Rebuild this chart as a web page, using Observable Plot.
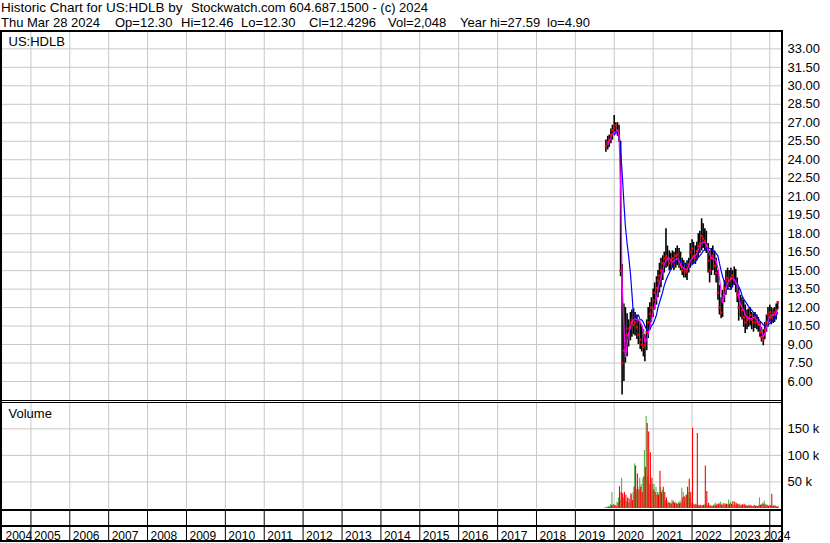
<!DOCTYPE html>
<html><head><meta charset="utf-8">
<script src="https://cdn.jsdelivr.net/npm/d3@7"></script>
<script src="https://cdn.jsdelivr.net/npm/@observablehq/plot@0.6"></script>
<style>
body{margin:0;background:#fff;width:830px;height:543px;overflow:hidden;position:relative;font-family:"Liberation Sans",Arial,sans-serif;}
.t{position:absolute;font-size:13px;line-height:13px;white-space:pre;color:#000}
.l1{top:1px}.l2{top:16px}
.bl{position:absolute;background:#000}
.pane{position:absolute;left:0}
.pane svg{overflow:visible}
</style></head><body>
<div class="t l1" style="left:1px;font-size:13.5px">Historic Chart for US:HDLB by</div>
<div class="t l1" style="left:191px">Stockwatch.com 604.687.1500 - (c) 2024</div>
<div class="t l2" style="left:1px">Thu Mar 28 2024</div>
<div class="t l2" style="left:115px">Op=12.30</div>
<div class="t l2" style="left:181px">Hi=12.46</div>
<div class="t l2" style="left:241px">Lo=12.30</div>
<div class="t l2" style="left:309px">Cl=12.4296</div>
<div class="t l2" style="left:388px">Vol=2,048</div>
<div class="t l2" style="left:460px">Year hi=27.59</div>
<div class="t l2" style="left:547px">lo=4.90</div>
<div class="bl" style="left:0;top:30px;width:783px;height:2px"></div>
<div class="bl" style="left:0;top:30px;width:2px;height:512px"></div>
<div class="bl" style="left:781px;top:30px;width:2px;height:512px"></div>
<div class="bl" style="left:0;top:400px;width:783px;height:1px"></div>
<div class="bl" style="left:0;top:402px;width:783px;height:1px"></div>
<div class="bl" style="left:0;top:509px;width:783px;height:2px"></div>
<div class="bl" style="left:0;top:525px;width:783px;height:2px"></div>
<div class="bl" style="left:0;top:540px;width:783px;height:2px"></div>
<div id="price" class="pane" style="top:32px"></div>
<div id="vol" class="pane" style="top:403px"></div>
<div id="axis" class="pane" style="top:511px"></div>
<script>
// semi-monthly observation dates
const dates = [
"2019-10-15","2019-11-01","2019-11-15","2019-12-01","2019-12-15",
"2020-01-01","2020-01-15","2020-02-01","2020-02-15","2020-03-01","2020-03-15","2020-04-01","2020-04-15","2020-05-01","2020-05-15","2020-06-01","2020-06-15",
"2020-07-01","2020-07-15","2020-08-01","2020-08-15","2020-09-01","2020-09-15","2020-10-01","2020-10-15","2020-11-01","2020-11-15","2020-12-01","2020-12-15",
"2021-01-01","2021-01-15","2021-02-01","2021-02-15","2021-03-01","2021-03-15","2021-04-01","2021-04-15","2021-05-01","2021-05-15","2021-06-01","2021-06-15",
"2021-07-01","2021-07-15","2021-08-01","2021-08-15","2021-09-01","2021-09-15","2021-10-01","2021-10-15","2021-11-01","2021-11-15","2021-12-01","2021-12-15",
"2022-01-01","2022-01-15","2022-02-01","2022-02-15","2022-03-01","2022-03-15","2022-04-01","2022-04-15","2022-05-01","2022-05-15","2022-06-01","2022-06-15",
"2022-07-01","2022-07-15","2022-08-01","2022-08-15","2022-09-01","2022-09-15","2022-10-01","2022-10-15","2022-11-01","2022-11-15","2022-12-01","2022-12-15",
"2023-01-01","2023-01-15","2023-02-01","2023-02-15","2023-03-01","2023-03-15","2023-04-01","2023-04-15","2023-05-01","2023-05-15","2023-06-01","2023-06-15",
"2023-07-01","2023-07-15","2023-08-01","2023-08-15","2023-09-01","2023-09-15","2023-10-01","2023-10-15","2023-11-01","2023-11-15","2023-12-01","2023-12-15",
"2024-01-01","2024-01-15","2024-02-01","2024-02-15","2024-03-01","2024-03-15"];

const hi = [
25.6,25.9,26.0,26.5,26.8,
27.59,27.0,27.0,26.8,25.5,15.5,12.3,12.0,11.5,11.0,11.6,11.8,11.9,11.6,11.4,11.0,10.8,10.5,10.2,9.8,11.0,12.0,12.4,12.8,
13.5,14.0,14.5,15.0,15.6,16.0,16.2,16.5,18.4,17.0,16.6,16.4,16.6,16.5,16.8,17.0,16.8,16.5,16.0,15.8,15.6,15.8,16.0,17.2,
17.5,17.3,17.0,17.3,18.0,18.2,19.2,18.8,18.4,18.2,17.2,16.6,16.8,17.0,16.6,16.0,15.0,13.8,12.8,13.4,14.2,15.0,15.2,15.0,
15.2,15.0,15.3,15.1,14.4,13.6,13.0,12.8,12.6,12.2,11.8,11.9,12.0,11.6,11.5,11.6,11.4,11.2,10.8,10.4,10.2,10.8,11.4,12.0,
12.2,12.0,11.9,12.0,12.3,12.46];

const lo = [
24.6,24.8,25.0,25.3,25.6,
26.0,26.1,25.9,25.4,14.5,4.9,6.0,7.5,8.0,8.8,9.3,9.6,9.8,9.7,9.4,9.0,8.6,8.4,8.0,7.6,8.5,9.5,10.2,10.8,
11.2,11.8,12.2,12.8,13.2,13.6,14.2,14.8,15.2,15.3,15.0,15.0,15.2,15.0,15.2,15.4,15.2,15.0,14.6,14.4,14.4,14.2,14.8,15.2,
15.5,15.6,15.5,15.8,16.0,16.4,16.6,16.8,16.6,16.4,14.8,14.0,14.6,15.0,14.6,14.0,12.6,11.4,11.1,11.2,12.4,13.0,13.4,13.6,
13.4,13.6,13.8,13.2,12.4,10.9,11.2,11.0,10.4,9.9,10.2,10.4,10.5,10.2,10.0,10.3,10.2,10.0,9.6,9.2,8.9,9.4,10.0,10.4,
10.8,10.6,10.7,10.8,11.0,11.8];

const cl = [
25.1,25.4,25.6,26.0,26.4,
26.6,26.8,26.4,26.0,15.0,7.5,8.5,9.3,9.8,10.3,10.8,11.0,10.6,10.8,10.4,9.8,9.4,9.0,8.8,9.0,10.0,10.8,11.5,12.0,
12.6,13.2,13.6,14.2,14.6,15.0,15.6,16.0,16.2,16.0,15.6,15.8,16.0,15.5,16.2,16.3,15.8,15.4,15.0,15.2,14.9,15.0,15.5,16.5,
16.8,16.2,16.0,16.6,17.0,17.2,17.8,17.6,17.4,17.0,15.8,15.0,16.0,16.2,15.4,14.8,13.2,12.0,11.6,12.6,13.6,14.2,14.4,14.2,
14.4,14.6,14.2,14.0,13.0,12.0,12.2,11.8,11.2,10.8,11.0,11.2,11.4,11.0,10.8,11.2,10.8,10.6,10.0,9.6,9.4,10.2,10.8,11.4,
11.6,11.2,11.4,11.6,11.8,12.43];

// short moving average (magenta)
const maShort = [
null,25.2,25.5,25.8,26.1,
26.2,26.3,26.4,26.0,22.0,14.0,10.5,8.0,9.0,9.9,10.4,10.8,11.0,11.1,11.0,11.0,10.8,10.6,10.0,9.2,9.4,9.9,10.4,11.0,
11.6,12.2,12.8,13.5,14.0,14.5,15.0,15.5,15.8,15.9,16.0,15.9,15.7,15.8,15.9,16.0,15.8,15.5,15.3,15.2,15.1,15.1,15.4,15.8,
16.0,16.1,16.2,16.4,16.7,17.0,17.2,17.3,17.3,17.1,16.7,16.3,16.0,16.0,15.9,15.8,15.2,14.4,13.3,12.4,13.0,13.6,14.0,14.2,
14.3,14.4,14.3,14.1,13.8,12.8,12.3,12.0,11.8,11.4,11.2,11.1,11.1,11.1,11.2,11.2,11.0,10.8,10.6,10.1,9.6,9.9,10.4,10.9,
11.3,11.4,11.4,11.4,11.5,11.9];

// long moving average (blue)
const maLong = [
null,null,null,null,null,
26.0,26.2,26.3,26.2,24.8,23.0,20.5,18.6,17.2,16.2,14.8,13.2,11.2,11.0,11.3,11.4,11.0,11.0,10.8,10.5,10.2,10.1,10.2,10.5,
10.7,11.0,11.4,12.0,12.4,12.8,13.3,13.8,14.2,14.5,14.8,15.1,15.3,15.6,15.7,15.8,15.8,15.8,15.7,15.6,15.5,15.4,15.3,15.4,
15.5,15.6,15.7,15.9,16.1,16.2,16.4,16.6,16.7,16.8,16.8,16.8,16.7,16.6,16.5,16.4,16.2,15.6,15.0,14.5,14.1,13.8,13.6,13.5,
13.5,13.8,14.1,14.2,14.0,13.7,13.4,13.0,12.7,12.5,12.3,12.1,11.9,11.8,11.6,11.5,11.3,11.1,10.9,10.8,10.6,10.5,10.5,10.6,
10.7,10.9,11.0,11.1,11.3,11.6];

// volume, thousands of shares (up days green, down days red)
const volUpK = [
2,3,4,7,30,
8,6,12,20,15,57,20,15,12,10,12,25,30,84,35,40,57,45,57,109,173,60,45,40,
45,45,40,30,30,40,35,30,15,15,12,10,16,14,12,10,12,14,38,30,20,25,30,20,
10,8,6,5,6,5,4,5,6,8,5,4,5,4,8,10,8,10,12,6,5,7,8,16,
12,8,6,5,6,5,4,5,6,4,5,5,4,5,4,6,5,4,20,6,10,14,8,5,
6,5,5,6,5,4];
const volDownK = [
1,2,3,5,6,
5,4,10,41,30,28,30,25,20,18,28,15,40,80,65,35,40,30,60,77,160,144,105,57,
35,30,25,25,70,30,40,30,20,10,10,8,12,10,8,8,9,10,20,22,25,40,55,30,
151,7,8,141,5,6,5,6,80,32,10,5,4,5,5,6,7,8,6,9,9,8,6,8,
8,13,12,10,8,8,6,7,8,6,4,6,5,4,5,4,4,5,6,8,8,5,6,4,
5,27,4,4,3,3];

const priceTicks = [6,7.5,9,10.5,12,13.5,15,16.5,18,19.5,21,22.5,24,25.5,27,28.5,30,31.5,33];
const volTicksK = [50,100,150];
const years = [2004,2005,2006,2007,2008,2009,2010,2011,2012,2013,2014,2015,2016,2017,2018,2019,2020,2021,2022,2023,2024];

const rows = dates.map((d,i)=>({date:new Date(d+"T00:00:00Z"),hi:hi[i],lo:lo[i],cl:cl[i],m1:maShort[i],m2:maLong[i],up:volUpK[i],dn:volDownK[i]}));
const xDomain = [new Date("2004-04-09T00:00:00Z"), new Date("2024-04-20T00:00:00Z")];
const yearTicks = years.map(y=>new Date(Date.UTC(y,0,1))).filter(d=>d>=xDomain[0]);
const yearLabels = years.map(y=>({date:new Date(Math.max(Date.UTC(y,0,1), +xDomain[0])), label:String(y)}));
const lastLabel = yearLabels.slice(-1);
const otherLabels = yearLabels.slice(0,-1);

const grid = "#c8c8c8";
const common = {width:830, marginLeft:2, marginRight:49, marginTop:0, marginBottom:0,
  style:{fontFamily:"'Liberation Sans',Arial,sans-serif", fontSize:"13px", background:"transparent", color:"#000", overflow:"visible"}};

const price = Plot.plot({...common, height:368,
  x:{type:"utc", domain:xDomain, axis:null},
  y:{domain:[4.458,34.328], axis:null, label:null},
  marks:[
    Plot.gridX(yearTicks,{stroke:grid, strokeOpacity:1}),
    Plot.gridY(priceTicks,{stroke:grid, strokeOpacity:1}),
    Plot.axisY(priceTicks,{anchor:"right", tickSize:0, tickPadding:6, tickFormat:d=>d.toFixed(2), label:null, fill:"#000"}),
    Plot.ruleX(rows,{x:"date", y1:"lo", y2:"hi", stroke:"#000", strokeWidth:1.6}),
    Plot.dot(rows,{x:"date", y:"cl", fill:"#ff0000", r:1.3, symbol:"square"}),
    Plot.line(rows,{x:"date", y:"m2", stroke:"#0000ff", strokeWidth:1.2}),
    Plot.line(rows,{x:"date", y:"m1", stroke:"#ff00ff", strokeWidth:1.2}),
    Plot.text(["US:HDLB"],{frameAnchor:"top-left", dx:6, dy:4, fill:"#000"})
  ]});
document.getElementById("price").appendChild(price);

const vol = Plot.plot({...common, height:105,
  x:{type:"utc", domain:xDomain, axis:null},
  y:{domain:[0,197.7], axis:null, label:null},
  marks:[
    Plot.gridX(yearTicks,{stroke:grid, strokeOpacity:1}),
    Plot.gridY(volTicksK,{stroke:grid, strokeOpacity:1}),
    Plot.axisY(volTicksK,{anchor:"right", tickSize:0, tickPadding:6, tickFormat:d=>d+" k", label:null, fill:"#000"}),
    Plot.ruleX(rows,{x:"date", y1:0, y2:"up", stroke:"#50b450", strokeWidth:1.1, dx:-0.5}),
    Plot.ruleX(rows,{x:"date", y1:0, y2:"dn", stroke:"#ff0000", strokeWidth:1.1, dx:0.5}),
    Plot.text(["Volume"],{frameAnchor:"top-left", dx:6, dy:5, fill:"#000"})
  ]});
document.getElementById("vol").appendChild(vol);

const axis = Plot.plot({...common, height:29,
  style:{...common.style, fontSize:"12px"},
  x:{type:"utc", domain:xDomain, axis:null},
  y:{domain:[0,1], axis:null},
  marks:[
    Plot.ruleX(yearTicks,{stroke:"#000", strokeWidth:1}),
    Plot.text(otherLabels,{x:"date", text:"label", frameAnchor:"bottom", lineAnchor:"bottom", textAnchor:"start", dx:3, dy:-1, fill:"#000"}),
    Plot.text(lastLabel,{x:"date", text:"label", frameAnchor:"bottom", lineAnchor:"bottom", textAnchor:"start", dx:-6, dy:-1, fill:"#000"})
  ]});
document.getElementById("axis").appendChild(axis);
</script>
</body></html>
